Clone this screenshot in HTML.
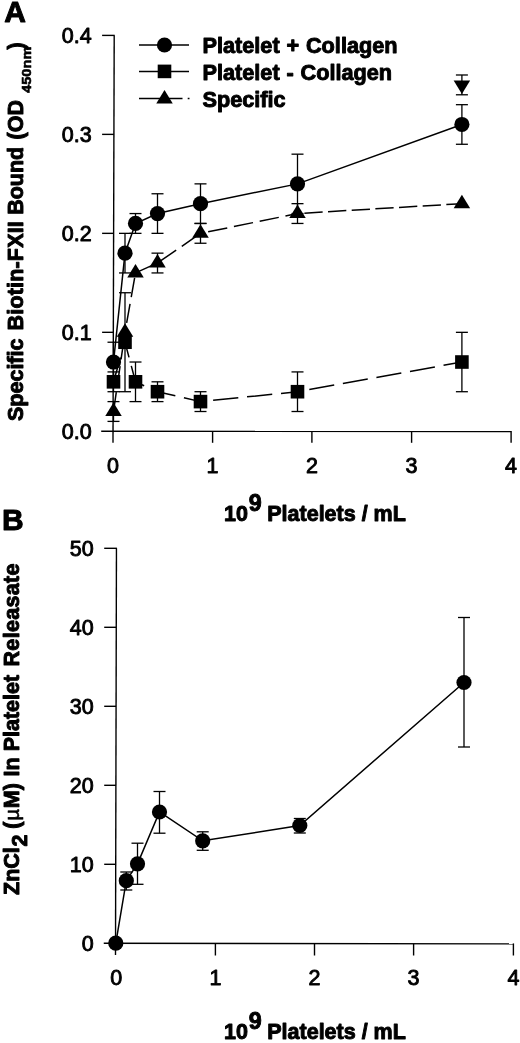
<!DOCTYPE html>
<html><head><meta charset="utf-8"><title>Figure</title>
<style>html,body{margin:0;padding:0;background:#fff}svg{display:block}</style>
</head><body>
<svg width="520" height="1043" viewBox="0 0 520 1043" font-family="Liberation Sans, Arial, Helvetica, sans-serif" fill="#000">
<rect width="520" height="1043" fill="#fff"/>
<line x1="114.2" y1="35.4" x2="113.0" y2="442.8" stroke="#000" stroke-width="1.4" />
<line x1="101.2" y1="431.3" x2="511.1" y2="431.5" stroke="#000" stroke-width="1.4" />
<text x="91.6" y="438.90000000000003" font-size="21.5" stroke="#000" stroke-width="0.9" stroke-linejoin="round" text-anchor="end" >0.0</text>
<line x1="102.1" y1="332.325" x2="113.32540500736377" y2="332.325" stroke="#000" stroke-width="1.4" />
<text x="91.6" y="339.925" font-size="21.5" stroke="#000" stroke-width="0.9" stroke-linejoin="round" text-anchor="end" >0.1</text>
<line x1="102.1" y1="233.35" x2="113.61693667157584" y2="233.35" stroke="#000" stroke-width="1.4" />
<text x="91.6" y="240.95" font-size="21.5" stroke="#000" stroke-width="0.9" stroke-linejoin="round" text-anchor="end" >0.2</text>
<line x1="102.1" y1="134.375" x2="113.90846833578793" y2="134.375" stroke="#000" stroke-width="1.4" />
<text x="91.6" y="141.975" font-size="21.5" stroke="#000" stroke-width="0.9" stroke-linejoin="round" text-anchor="end" >0.3</text>
<line x1="102.1" y1="35.39999999999998" x2="114.7" y2="35.39999999999998" stroke="#000" stroke-width="1.4" />
<text x="91.6" y="42.99999999999998" font-size="21.5" stroke="#000" stroke-width="0.9" stroke-linejoin="round" text-anchor="end" >0.4</text>
<text x="113.1" y="473.4" font-size="21.5" stroke="#000" stroke-width="0.9" stroke-linejoin="round" text-anchor="middle" >0</text>
<line x1="212.6" y1="431.3558" x2="212.6" y2="442.8" stroke="#000" stroke-width="1.4" />
<text x="212.6" y="473.4" font-size="21.5" stroke="#000" stroke-width="0.9" stroke-linejoin="round" text-anchor="middle" >1</text>
<line x1="311.9" y1="431.40545000000003" x2="311.9" y2="442.8" stroke="#000" stroke-width="1.4" />
<text x="311.9" y="473.4" font-size="21.5" stroke="#000" stroke-width="0.9" stroke-linejoin="round" text-anchor="middle" >2</text>
<line x1="411.6" y1="431.4553" x2="411.6" y2="442.8" stroke="#000" stroke-width="1.4" />
<text x="411.6" y="473.4" font-size="21.5" stroke="#000" stroke-width="0.9" stroke-linejoin="round" text-anchor="middle" >3</text>
<line x1="511.1" y1="431.00505000000004" x2="511.1" y2="442.8" stroke="#000" stroke-width="1.4" />
<text x="511.1" y="473.4" font-size="21.5" stroke="#000" stroke-width="0.9" stroke-linejoin="round" text-anchor="middle" >4</text>
<line x1="113.5" y1="342.22249999999997" x2="113.5" y2="381.8125" stroke="#000" stroke-width="1.3" />
<line x1="107.5" y1="342.22249999999997" x2="119.5" y2="342.22249999999997" stroke="#000" stroke-width="1.3" />
<line x1="107.5" y1="381.8125" x2="119.5" y2="381.8125" stroke="#000" stroke-width="1.3" />
<line x1="125" y1="233.35000000000002" x2="125" y2="272.94" stroke="#000" stroke-width="1.3" />
<line x1="119" y1="233.35000000000002" x2="131" y2="233.35000000000002" stroke="#000" stroke-width="1.3" />
<line x1="119" y1="272.94" x2="131" y2="272.94" stroke="#000" stroke-width="1.3" />
<line x1="135.5" y1="213.555" x2="135.5" y2="233.35000000000002" stroke="#000" stroke-width="1.3" />
<line x1="129.5" y1="213.555" x2="141.5" y2="213.555" stroke="#000" stroke-width="1.3" />
<line x1="129.5" y1="233.35000000000002" x2="141.5" y2="233.35000000000002" stroke="#000" stroke-width="1.3" />
<line x1="157.5" y1="193.76000000000002" x2="157.5" y2="233.35" stroke="#000" stroke-width="1.3" />
<line x1="151.5" y1="193.76000000000002" x2="163.5" y2="193.76000000000002" stroke="#000" stroke-width="1.3" />
<line x1="151.5" y1="233.35" x2="163.5" y2="233.35" stroke="#000" stroke-width="1.3" />
<line x1="200.5" y1="183.8625" x2="200.5" y2="223.4525" stroke="#000" stroke-width="1.3" />
<line x1="194.5" y1="183.8625" x2="206.5" y2="183.8625" stroke="#000" stroke-width="1.3" />
<line x1="194.5" y1="223.4525" x2="206.5" y2="223.4525" stroke="#000" stroke-width="1.3" />
<line x1="297.5" y1="154.16999999999996" x2="297.5" y2="213.555" stroke="#000" stroke-width="1.3" />
<line x1="291.5" y1="154.16999999999996" x2="303.5" y2="154.16999999999996" stroke="#000" stroke-width="1.3" />
<line x1="291.5" y1="213.555" x2="303.5" y2="213.555" stroke="#000" stroke-width="1.3" />
<line x1="461.9" y1="104.6825" x2="461.9" y2="144.27250000000004" stroke="#000" stroke-width="1.3" />
<line x1="455.9" y1="104.6825" x2="467.9" y2="104.6825" stroke="#000" stroke-width="1.3" />
<line x1="455.9" y1="144.27250000000004" x2="467.9" y2="144.27250000000004" stroke="#000" stroke-width="1.3" />
<line x1="113.5" y1="371.915" x2="113.5" y2="391.71000000000004" stroke="#000" stroke-width="1.3" />
<line x1="107.5" y1="371.915" x2="119.5" y2="371.915" stroke="#000" stroke-width="1.3" />
<line x1="107.5" y1="391.71000000000004" x2="119.5" y2="391.71000000000004" stroke="#000" stroke-width="1.3" />
<line x1="125" y1="292.735" x2="125" y2="391.71000000000004" stroke="#000" stroke-width="1.3" />
<line x1="119" y1="292.735" x2="131" y2="292.735" stroke="#000" stroke-width="1.3" />
<line x1="119" y1="391.71000000000004" x2="131" y2="391.71000000000004" stroke="#000" stroke-width="1.3" />
<line x1="135.5" y1="362.0175" x2="135.5" y2="401.6075" stroke="#000" stroke-width="1.3" />
<line x1="129.5" y1="362.0175" x2="141.5" y2="362.0175" stroke="#000" stroke-width="1.3" />
<line x1="129.5" y1="401.6075" x2="141.5" y2="401.6075" stroke="#000" stroke-width="1.3" />
<line x1="157.5" y1="381.8125" x2="157.5" y2="401.6075" stroke="#000" stroke-width="1.3" />
<line x1="151.5" y1="381.8125" x2="163.5" y2="381.8125" stroke="#000" stroke-width="1.3" />
<line x1="151.5" y1="401.6075" x2="163.5" y2="401.6075" stroke="#000" stroke-width="1.3" />
<line x1="200.5" y1="391.71000000000004" x2="200.5" y2="411.505" stroke="#000" stroke-width="1.3" />
<line x1="194.5" y1="391.71000000000004" x2="206.5" y2="391.71000000000004" stroke="#000" stroke-width="1.3" />
<line x1="194.5" y1="411.505" x2="206.5" y2="411.505" stroke="#000" stroke-width="1.3" />
<line x1="297.5" y1="371.915" x2="297.5" y2="411.505" stroke="#000" stroke-width="1.3" />
<line x1="291.5" y1="371.915" x2="303.5" y2="371.915" stroke="#000" stroke-width="1.3" />
<line x1="291.5" y1="411.505" x2="303.5" y2="411.505" stroke="#000" stroke-width="1.3" />
<line x1="461.9" y1="332.325" x2="461.9" y2="391.71" stroke="#000" stroke-width="1.3" />
<line x1="455.9" y1="332.325" x2="467.9" y2="332.325" stroke="#000" stroke-width="1.3" />
<line x1="455.9" y1="391.71" x2="467.9" y2="391.71" stroke="#000" stroke-width="1.3" />
<line x1="113.5" y1="401.6075" x2="113.5" y2="421.40250000000003" stroke="#000" stroke-width="1.3" />
<line x1="107.5" y1="401.6075" x2="119.5" y2="401.6075" stroke="#000" stroke-width="1.3" />
<line x1="107.5" y1="421.40250000000003" x2="119.5" y2="421.40250000000003" stroke="#000" stroke-width="1.3" />
<line x1="157.5" y1="253.14499999999998" x2="157.5" y2="272.94" stroke="#000" stroke-width="1.3" />
<line x1="151.5" y1="253.14499999999998" x2="163.5" y2="253.14499999999998" stroke="#000" stroke-width="1.3" />
<line x1="151.5" y1="272.94" x2="163.5" y2="272.94" stroke="#000" stroke-width="1.3" />
<line x1="200.5" y1="223.4525" x2="200.5" y2="243.2475" stroke="#000" stroke-width="1.3" />
<line x1="194.5" y1="223.4525" x2="206.5" y2="223.4525" stroke="#000" stroke-width="1.3" />
<line x1="194.5" y1="243.2475" x2="206.5" y2="243.2475" stroke="#000" stroke-width="1.3" />
<line x1="297.5" y1="203.6575" x2="297.5" y2="223.45250000000001" stroke="#000" stroke-width="1.3" />
<line x1="291.5" y1="203.6575" x2="303.5" y2="203.6575" stroke="#000" stroke-width="1.3" />
<line x1="291.5" y1="223.45250000000001" x2="303.5" y2="223.45250000000001" stroke="#000" stroke-width="1.3" />
<line x1="461.9" y1="74.99000000000001" x2="461.9" y2="94.78499999999997" stroke="#000" stroke-width="1.3" />
<line x1="455.9" y1="74.99000000000001" x2="467.9" y2="74.99000000000001" stroke="#000" stroke-width="1.3" />
<line x1="455.9" y1="94.78499999999997" x2="467.9" y2="94.78499999999997" stroke="#000" stroke-width="1.3" />
<polyline points="113.5,362.0175 125,253.145 135.5,223.45250000000001 157.5,213.555 200.5,203.6575 297.5,183.8625 461.9,124.47750000000002" fill="none" stroke="#000" stroke-width="1.5" />
<polyline points="113.5,381.8125 125,342.2225" fill="none" stroke="#000" stroke-width="1.5" stroke-dasharray="25.3 8.8" stroke-dashoffset="0"/>
<polyline points="125,342.2225 135.5,381.8125" fill="none" stroke="#000" stroke-width="1.5" stroke-dasharray="25.3 8.8" stroke-dashoffset="9.6"/>
<polyline points="135.5,381.8125 157.5,391.71000000000004" fill="none" stroke="#000" stroke-width="1.5" stroke-dasharray="25.3 8.8" stroke-dashoffset="15.8"/>
<polyline points="157.5,391.71000000000004 200.5,401.6075" fill="none" stroke="#000" stroke-width="1.5" stroke-dasharray="25.3 8.8" stroke-dashoffset="7"/>
<polyline points="200.5,401.6075 297.5,391.71000000000004" fill="none" stroke="#000" stroke-width="1.5" stroke-dasharray="25.3 8.8" stroke-dashoffset="21.4"/>
<polyline points="297.5,391.71000000000004 461.9,362.0175" fill="none" stroke="#000" stroke-width="1.5" stroke-dasharray="25.3 8.8" stroke-dashoffset="22.1"/>
<polyline points="113.5,411.505 125,332.325" fill="none" stroke="#000" stroke-width="1.5" stroke-dasharray="19.5 6.8" stroke-dashoffset="0"/>
<polyline points="125,332.325 135.5,272.94" fill="none" stroke="#000" stroke-width="1.5" stroke-dasharray="19.5 6.8" stroke-dashoffset="16.8"/>
<polyline points="135.5,272.94 157.5,263.0425" fill="none" stroke="#000" stroke-width="1.5" stroke-dasharray="19.5 6.8" stroke-dashoffset="0"/>
<polyline points="157.5,263.0425 200.5,233.35" fill="none" stroke="#000" stroke-width="1.5" stroke-dasharray="19.5 6.8" stroke-dashoffset="23.1"/>
<polyline points="200.5,233.35 297.5,213.555" fill="none" stroke="#000" stroke-width="1.5" stroke-dasharray="19.5 6.8" stroke-dashoffset="18.5"/>
<polyline points="297.5,213.555 461.9,203.6575" fill="none" stroke="#000" stroke-width="1.5" stroke-dasharray="18.3 5.4" stroke-dashoffset="16.8"/>
<circle cx="113.5" cy="362.0175" r="7.6" fill="#000"/>
<circle cx="125" cy="253.145" r="7.6" fill="#000"/>
<circle cx="135.5" cy="223.45250000000001" r="7.6" fill="#000"/>
<circle cx="157.5" cy="213.555" r="7.6" fill="#000"/>
<circle cx="200.5" cy="203.6575" r="7.6" fill="#000"/>
<circle cx="297.5" cy="183.8625" r="7.6" fill="#000"/>
<circle cx="461.9" cy="124.47750000000002" r="7.6" fill="#000"/>
<rect x="106.7" y="375.0125" width="13.6" height="13.6" fill="#000"/>
<rect x="118.2" y="335.4225" width="13.6" height="13.6" fill="#000"/>
<rect x="128.7" y="375.0125" width="13.6" height="13.6" fill="#000"/>
<rect x="150.7" y="384.91" width="13.6" height="13.6" fill="#000"/>
<rect x="193.7" y="394.8075" width="13.6" height="13.6" fill="#000"/>
<rect x="290.7" y="384.91" width="13.6" height="13.6" fill="#000"/>
<rect x="455.09999999999997" y="355.2175" width="13.6" height="13.6" fill="#000"/>
<polygon points="113.5,402.505 121.75,416.005 105.25,416.005" fill="#000"/>
<polygon points="125,323.325 133.25,336.825 116.75,336.825" fill="#000"/>
<polygon points="135.5,263.94 143.75,277.44 127.25,277.44" fill="#000"/>
<polygon points="157.5,254.04250000000002 165.75,267.5425 149.25,267.5425" fill="#000"/>
<polygon points="200.5,224.35 208.75,237.85 192.25,237.85" fill="#000"/>
<polygon points="297.5,204.555 305.75,218.055 289.25,218.055" fill="#000"/>
<polygon points="461.9,194.6575 470.15,208.1575 453.65,208.1575" fill="#000"/>
<polygon points="453.65,80.38750000000005 470.15,80.38750000000005 461.9,93.88750000000005" fill="#000"/>
<line x1="139" y1="45" x2="189" y2="45" stroke="#000" stroke-width="1.5" />
<circle cx="164.5" cy="45" r="7.6" fill="#000"/>
<line x1="139" y1="71.4" x2="189" y2="71.4" stroke="#000" stroke-width="1.5" />
<rect x="157.7" y="64.60000000000001" width="13.6" height="13.6" fill="#000"/>
<line x1="139" y1="98.5" x2="182.5" y2="98.5" stroke="#000" stroke-width="1.5" />
<line x1="187.7" y1="98.5" x2="189.5" y2="98.5" stroke="#000" stroke-width="1.5" />
<polygon points="164.5,90.0 172.75,103.5 156.25,103.5" fill="#000"/>
<text x="202.5" y="53.3" font-size="21.7" font-weight="bold" stroke="#000" stroke-width="0.95" stroke-linejoin="round" text-anchor="start" id="lg1" word-spacing="0.8">Platelet + Collagen</text>
<text x="202.5" y="80.3" font-size="21.7" font-weight="bold" stroke="#000" stroke-width="0.95" stroke-linejoin="round" text-anchor="start" id="lg2" word-spacing="0.8">Platelet - Collagen</text>
<text x="202.5" y="107.3" font-size="21.7" font-weight="bold" stroke="#000" stroke-width="0.95" stroke-linejoin="round" text-anchor="start" id="lg3">Specific</text>
<text x="4.3" y="21.9" font-size="30" font-weight="bold" stroke="#000" stroke-width="0.95" stroke-linejoin="round" text-anchor="start" id="pa">A</text>
<text x="2.1" y="529.6" font-size="30" font-weight="bold" stroke="#000" stroke-width="0.95" stroke-linejoin="round" text-anchor="start" id="pb">B</text>
<text id="yla" transform="translate(23.3,421) rotate(-90)" font-size="21.5" font-weight="bold" stroke="#000" stroke-width="0.95" stroke-linejoin="round"><tspan x="0">Specific</tspan> <tspan x="90.6" textLength="109.2">Biotin-FXII</tspan> <tspan x="206.2">Bound</tspan> <tspan x="281.5">(OD</tspan> <tspan x="328.1" font-size="13" stroke-width="0.6" dy="7.5" textLength="46.3" lengthAdjust="spacingAndGlyphs">450nm</tspan><tspan x="371.6" dy="-7.5">)</tspan></text>
<text id="xla" x="224.1" y="520.8" font-size="21.5" font-weight="bold" stroke="#000" stroke-width="0.95" stroke-linejoin="round">10<tspan dy="-10.2" dx="0.8" font-size="23.3">9</tspan><tspan dy="10.2" dx="-0.5"> Platelets / mL</tspan></text>
<line x1="116.45" y1="548.3" x2="115.5" y2="955.1" stroke="#000" stroke-width="1.4" />
<line x1="103.75" y1="943.3" x2="513.4" y2="943.9" stroke="#000" stroke-width="1.4" />
<text x="93.6" y="950.9" font-size="21.5" stroke="#000" stroke-width="0.9" stroke-linejoin="round" text-anchor="end" >0</text>
<line x1="104.2" y1="864.3" x2="115.71170761670761" y2="864.3" stroke="#000" stroke-width="1.4" />
<text x="93.6" y="871.9" font-size="21.5" stroke="#000" stroke-width="0.9" stroke-linejoin="round" text-anchor="end" >10</text>
<line x1="104.2" y1="785.3" x2="115.89610565110566" y2="785.3" stroke="#000" stroke-width="1.4" />
<text x="93.6" y="792.9" font-size="21.5" stroke="#000" stroke-width="0.9" stroke-linejoin="round" text-anchor="end" >20</text>
<line x1="104.2" y1="706.3" x2="116.08050368550369" y2="706.3" stroke="#000" stroke-width="1.4" />
<text x="93.6" y="713.9" font-size="21.5" stroke="#000" stroke-width="0.9" stroke-linejoin="round" text-anchor="end" >30</text>
<line x1="104.2" y1="627.3" x2="116.26490171990172" y2="627.3" stroke="#000" stroke-width="1.4" />
<text x="93.6" y="634.9" font-size="21.5" stroke="#000" stroke-width="0.9" stroke-linejoin="round" text-anchor="end" >40</text>
<line x1="104.2" y1="548.3" x2="116.94929975429976" y2="548.3" stroke="#000" stroke-width="1.4" />
<text x="93.6" y="555.9" font-size="21.5" stroke="#000" stroke-width="0.9" stroke-linejoin="round" text-anchor="end" >50</text>
<text x="116.2" y="985.4" font-size="21.5" stroke="#000" stroke-width="0.9" stroke-linejoin="round" text-anchor="middle" >0</text>
<line x1="215.4" y1="943.4671" x2="215.4" y2="955.5" stroke="#000" stroke-width="1.4" />
<text x="215.4" y="985.4" font-size="21.5" stroke="#000" stroke-width="0.9" stroke-linejoin="round" text-anchor="middle" >1</text>
<line x1="314.5" y1="943.6157499999999" x2="314.5" y2="955.5" stroke="#000" stroke-width="1.4" />
<text x="314.5" y="985.4" font-size="21.5" stroke="#000" stroke-width="0.9" stroke-linejoin="round" text-anchor="middle" >2</text>
<line x1="413.6" y1="943.7643999999999" x2="413.6" y2="955.5" stroke="#000" stroke-width="1.4" />
<text x="413.6" y="985.4" font-size="21.5" stroke="#000" stroke-width="0.9" stroke-linejoin="round" text-anchor="middle" >3</text>
<line x1="513.4" y1="943.4141" x2="513.4" y2="955.5" stroke="#000" stroke-width="1.4" />
<text x="513.4" y="985.4" font-size="21.5" stroke="#000" stroke-width="0.9" stroke-linejoin="round" text-anchor="middle" >4</text>
<line x1="126.3" y1="872" x2="126.3" y2="890" stroke="#000" stroke-width="1.3" />
<line x1="120.3" y1="872" x2="132.3" y2="872" stroke="#000" stroke-width="1.3" />
<line x1="120.3" y1="890" x2="132.3" y2="890" stroke="#000" stroke-width="1.3" />
<line x1="137.5" y1="843.2" x2="137.5" y2="884.3" stroke="#000" stroke-width="1.3" />
<line x1="131.5" y1="843.2" x2="143.5" y2="843.2" stroke="#000" stroke-width="1.3" />
<line x1="131.5" y1="884.3" x2="143.5" y2="884.3" stroke="#000" stroke-width="1.3" />
<line x1="159.5" y1="791.5" x2="159.5" y2="833.2" stroke="#000" stroke-width="1.3" />
<line x1="153.5" y1="791.5" x2="165.5" y2="791.5" stroke="#000" stroke-width="1.3" />
<line x1="153.5" y1="833.2" x2="165.5" y2="833.2" stroke="#000" stroke-width="1.3" />
<line x1="202.7" y1="831.8" x2="202.7" y2="850.3" stroke="#000" stroke-width="1.3" />
<line x1="196.7" y1="831.8" x2="208.7" y2="831.8" stroke="#000" stroke-width="1.3" />
<line x1="196.7" y1="850.3" x2="208.7" y2="850.3" stroke="#000" stroke-width="1.3" />
<line x1="299.8" y1="818.5" x2="299.8" y2="833" stroke="#000" stroke-width="1.3" />
<line x1="293.8" y1="818.5" x2="305.8" y2="818.5" stroke="#000" stroke-width="1.3" />
<line x1="293.8" y1="833" x2="305.8" y2="833" stroke="#000" stroke-width="1.3" />
<line x1="464" y1="617.5" x2="464" y2="747" stroke="#000" stroke-width="1.3" />
<line x1="458" y1="617.5" x2="470" y2="617.5" stroke="#000" stroke-width="1.3" />
<line x1="458" y1="747" x2="470" y2="747" stroke="#000" stroke-width="1.3" />
<polyline points="115.8,943.2 126.3,880.7 137.5,863.8 159.5,812 202.7,840.8 299.8,825.5 464,682.5" fill="none" stroke="#000" stroke-width="1.5" />
<circle cx="115.8" cy="943.2" r="7.6" fill="#000"/>
<circle cx="126.3" cy="880.7" r="7.6" fill="#000"/>
<circle cx="137.5" cy="863.8" r="7.6" fill="#000"/>
<circle cx="159.5" cy="812" r="7.6" fill="#000"/>
<circle cx="202.7" cy="840.8" r="7.6" fill="#000"/>
<circle cx="299.8" cy="825.5" r="7.6" fill="#000"/>
<circle cx="464" cy="682.5" r="7.6" fill="#000"/>
<text id="ylb" transform="translate(19.4,895) rotate(-90)" font-size="21.5" font-weight="bold" stroke="#000" stroke-width="0.95" stroke-linejoin="round">ZnCl<tspan dy="7.5" dx="0.8">2</tspan><tspan dy="-7.5" dx="-0.3"> (</tspan><tspan font-weight="normal" font-size="20" dx="1.2" stroke-width="0.6">µ</tspan><tspan dx="0.6">M)</tspan> <tspan dx="0.65">In</tspan> <tspan dx="0.15">Platelet</tspan> <tspan dx="2.4" letter-spacing="0.3">Releasate</tspan></text>
<text id="xlb" x="224.1" y="1039.3" font-size="21.5" font-weight="bold" stroke="#000" stroke-width="0.95" stroke-linejoin="round">10<tspan dy="-10.2" dx="0.8" font-size="23.3">9</tspan><tspan dy="10.2" dx="-0.5"> Platelets / mL</tspan></text>
</svg>
</body></html>
